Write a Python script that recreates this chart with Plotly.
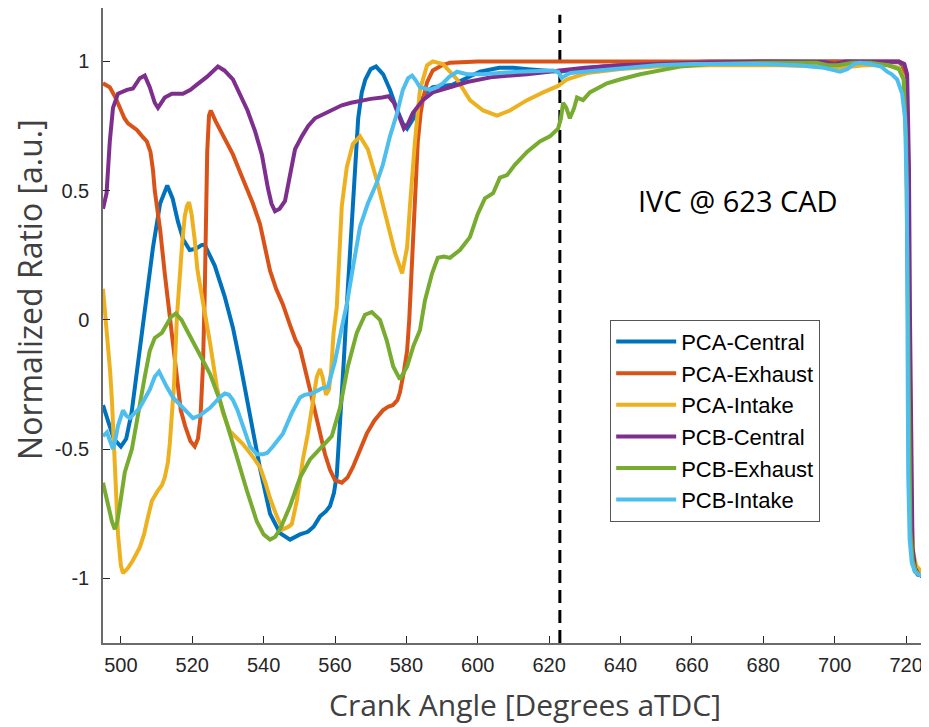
import plotly.graph_objects as go

# ---------------- data ----------------
series_names = ["PCA-Central", "PCA-Exhaust", "PCA-Intake", "PCB-Central", "PCB-Exhaust", "PCB-Intake"]
series_colors = ["#0072BD", "#D95319", "#EDB120", "#7E2F8E", "#77AC30", "#4DBEEE"]

pca_central_x = [495, 496.5, 498, 500, 501.5, 503, 505, 507, 509, 511, 513, 514.5, 516, 517.5, 519.3, 521, 522.7,
                 523.5, 526.3, 529.1, 531.4, 533.4, 536.2, 539, 541.8, 544.6, 547.4, 550.2, 552.4, 554, 555.8, 557.5,
                 558.6, 559.7, 560.5, 561.5, 562.5, 563.5, 564.5, 565.5, 566.5, 567.5, 568.5, 570, 571.5, 573.5,
                 575.4, 577.2, 579, 580.2, 582, 583.8, 585.5, 587.4, 590, 593, 596, 600.6, 606, 610, 614, 618, 623,
                 628, 635, 645, 655, 665, 700, 716, 718, 719, 719.7, 720.2, 720.5, 720.8, 721.1, 721.6, 722.3,
                 723.2, 725]
pca_central_y = [-0.33, -0.40, -0.46, -0.49, -0.46, -0.36, -0.15, 0.08, 0.28, 0.45, 0.52, 0.47, 0.38, 0.31, 0.27,
                 0.275, 0.29, 0.29, 0.21, 0.09, -0.03, -0.165, -0.36, -0.575, -0.75, -0.825, -0.85, -0.83, -0.82,
                 -0.80, -0.76, -0.74, -0.72, -0.67, -0.60, -0.40, -0.15, 0.10, 0.35, 0.60, 0.78, 0.88, 0.93, 0.97,
                 0.98, 0.95, 0.89, 0.82, 0.76, 0.74, 0.78, 0.84, 0.88, 0.90, 0.905, 0.91, 0.93, 0.96, 0.975, 0.975,
                 0.97, 0.965, 0.96, 0.97, 0.98, 0.99, 0.995, 1.0, 1.0, 1.0, 0.997, 0.985, 0.95, 0.75, 0.3, -0.3,
                 -0.7, -0.9, -0.96, -0.985, -0.99]

pca_exhaust_x = [495, 496.9, 498.5, 499.7, 501, 502, 503.5, 504.5, 506, 507.3, 508.3, 509, 509.5, 510.3, 511, 512.3,
                 513.7, 514.3, 515.7, 516.8, 518, 519.5, 520.7, 521.6, 522.3, 523, 523.5, 523.9, 524.2, 524.7,
                 525.2, 526.5, 527.7, 529.5, 531.4, 533.3, 535.3, 537, 539, 540.5, 541.8, 543.5, 545.4, 547.4, 549,
                 550.2, 551.5, 553, 554.5, 555.8, 557.2, 558.6, 560, 561.9, 563.5, 565, 567, 568.9, 571, 573.4, 575,
                 576.2, 577.5, 578.2, 579.3, 580.2, 580.8, 581.8, 582.5, 583.2, 584, 584.6, 585.8, 587.4, 590,
                 592.2, 600, 718, 719, 719.8, 720.3, 720.6, 720.9, 721.2, 721.7, 722.4, 723.3, 725]
pca_exhaust_y = [0.915, 0.90, 0.86, 0.82, 0.78, 0.76, 0.745, 0.735, 0.71, 0.69, 0.65, 0.58, 0.50, 0.42, 0.35, 0.18,
                 0.01, -0.05, -0.25, -0.35, -0.41, -0.47, -0.49, -0.46, -0.38, -0.18, 0.10, 0.40, 0.65, 0.79, 0.81,
                 0.77, 0.74, 0.69, 0.64, 0.575, 0.51, 0.45, 0.37, 0.27, 0.19, 0.12, 0.06, -0.02, -0.08, -0.11,
                 -0.18, -0.27, -0.36, -0.44, -0.52, -0.58, -0.62, -0.63, -0.61, -0.57, -0.50, -0.44, -0.39, -0.35,
                 -0.335, -0.33, -0.31, -0.28, -0.20, -0.12, 0.0, 0.31, 0.52, 0.69, 0.80, 0.85, 0.92, 0.965, 0.985,
                 0.995, 1.0, 1.0, 0.99, 0.95, 0.7, 0.2, -0.4, -0.75, -0.92, -0.97, -0.985, -0.99]

pca_intake_x = [495, 496.1, 497, 497.5, 498.3, 499.2, 500, 500.6, 502, 503.4, 505.3, 506.5, 507.3, 508.7, 510.4,
                511.5, 512.3, 513.2, 513.7, 514.3, 514.9, 515.7, 516.5, 517.2, 517.9, 518.5, 519.1, 519.8, 520.7,
                521.4, 522.1, 523, 525, 526.9, 528.6, 530.5, 532.5, 534.2, 537, 539, 540.5, 541.8, 543.7, 545.4,
                547, 547.9, 549.3, 551, 552.4, 553.5, 554.9, 555.8, 556.5, 557.5, 558.3, 558.9, 559.6, 560.5,
                561.9, 563.3, 565, 567, 569.2, 571.7, 574.6, 576.8, 578.8, 580.2, 581, 582.4, 583.8, 585.8, 587.4,
                590.2, 594.2, 597.8, 601.5, 605.4, 609, 613.8, 618.3, 622.5, 625, 630.6, 640, 650, 665, 685, 695,
                702, 708, 715, 718, 719.5, 720.3, 720.7, 721.1, 721.5, 722, 722.8, 724, 725]
pca_intake_y = [0.12, -0.05, -0.2, -0.31, -0.57, -0.83, -0.95, -0.98, -0.96, -0.93, -0.88, -0.83, -0.78, -0.70,
                -0.66, -0.64, -0.61, -0.55, -0.48, -0.37, -0.25, 0.01, 0.18, 0.30, 0.40, 0.44, 0.455, 0.41, 0.31,
                0.20, 0.14, 0.075, -0.09, -0.26, -0.36, -0.43, -0.46, -0.48, -0.53, -0.57, -0.63, -0.69, -0.76,
                -0.81, -0.80, -0.79, -0.70, -0.54, -0.44, -0.34, -0.22, -0.19, -0.22, -0.29, -0.27, -0.20, -0.05,
                0.05, 0.44, 0.59, 0.68, 0.71, 0.66, 0.54, 0.38, 0.26, 0.18, 0.28, 0.44, 0.69, 0.89, 0.985, 1.0, 0.99,
                0.93, 0.85, 0.81, 0.79, 0.81, 0.85, 0.88, 0.905, 0.93, 0.955, 0.97, 0.98, 0.985, 0.985, 0.98,
                0.975, 0.985, 0.985, 0.975, 0.93, 0.75, 0.2, -0.4, -0.75, -0.9, -0.95, -0.97, -0.975]

pcb_central_x = [495, 496, 496.9, 497.8, 499.2, 501.7, 503.4, 505.3, 506.7, 508.1, 509.5, 510.4, 512.3, 514.3,
                 517.4, 519.5, 521.3, 524.1, 527.2, 529, 531.4, 534.2, 535.5, 537.6, 539.5, 541.2, 542.2, 543.2,
                 544.5, 546, 547.5, 548.8, 550.7, 552.5, 554.4, 557.2, 559, 561.9, 564.5, 567.5, 570, 573.2, 575,
                 576.5, 577.8, 579.3, 580.5, 581.8, 584.6, 587.4, 592.2, 597, 604.3, 613.8, 623, 630, 640, 650, 660,
                 680, 697, 700, 703, 718, 719.5, 720.3, 720.8, 721.1, 721.4, 721.8, 722.5, 723.5, 725]
pcb_central_y = [0.43, 0.49, 0.69, 0.82, 0.875, 0.89, 0.895, 0.935, 0.945, 0.90, 0.84, 0.82, 0.86, 0.875, 0.875,
                 0.89, 0.91, 0.94, 0.98, 0.965, 0.93, 0.85, 0.81, 0.73, 0.64, 0.51, 0.45, 0.42, 0.43, 0.46, 0.56,
                 0.66, 0.71, 0.75, 0.78, 0.80, 0.81, 0.83, 0.84, 0.85, 0.855, 0.86, 0.865, 0.84, 0.79, 0.74, 0.76,
                 0.80, 0.85, 0.88, 0.90, 0.92, 0.94, 0.95, 0.965, 0.975, 0.985, 0.99, 0.995, 1.0, 0.998, 0.99, 1.0,
                 1.0, 0.99, 0.95, 0.6, 0.0, -0.6, -0.88, -0.96, -0.985, -0.995]

pcb_exhaust_x = [495, 496.4, 497.5, 498.3, 499, 499.7, 501.1, 503.1, 504.8, 506.7, 508.1, 509.5, 511.5, 512.9, 514,
                 515.4, 517, 518.5, 520.3, 522.1, 525, 527.7, 530, 532.5, 535.3, 538.1, 540, 541.8, 543.2, 544.6,
                 547.4, 550.2, 553, 556.3, 559.1, 561.4, 563.6, 566.1, 568.4, 570.3, 572.6, 574.5, 576.3, 578.2,
                 580.2, 582, 583.8, 585.2, 587.2, 588.8, 590.5, 592.2, 595, 597.8, 600, 602, 604.3, 606.2, 608.2,
                 610.4, 613.8, 617.4, 620.2, 622.5, 623.3, 623.9, 624.8, 625.8, 627, 627.8, 629.5, 631.4, 633.4,
                 636.2, 639.8, 645.5, 653, 656.7, 665, 680, 695, 698, 701, 705, 710, 715, 718, 719.3, 720, 720.4,
                 720.8, 721.2, 721.8, 722.6, 723.5, 725]
pcb_exhaust_y = [-0.63, -0.72, -0.78, -0.81, -0.78, -0.72, -0.59, -0.50, -0.36, -0.22, -0.12, -0.07, -0.05,
                 -0.015, 0.01, 0.025, 0.0, -0.04, -0.085, -0.13, -0.21, -0.31, -0.41, -0.53, -0.66, -0.78, -0.83,
                 -0.85, -0.84, -0.81, -0.72, -0.61, -0.54, -0.49, -0.45, -0.34, -0.18, -0.05, 0.02, 0.03, 0.0,
                 -0.08, -0.18, -0.23, -0.18, -0.10, -0.04, 0.075, 0.18, 0.24, 0.245, 0.24, 0.27, 0.32, 0.41, 0.47,
                 0.49, 0.55, 0.56, 0.60, 0.65, 0.69, 0.71, 0.74, 0.78, 0.84, 0.82, 0.78, 0.82, 0.86, 0.85, 0.88,
                 0.895, 0.915, 0.93, 0.95, 0.97, 0.98, 0.99, 0.995, 0.995, 0.985, 0.985, 0.995, 0.995, 0.985, 0.97,
                 0.93, 0.7, 0.1, -0.5, -0.82, -0.93, -0.97, -0.985, -0.99]

pcb_intake_x = [495, 496.1, 497, 497.8, 498.5, 499.2, 500.6, 501.5, 502.5, 505.3, 508.1, 509.5, 510.7, 512, 512.9,
                514.6, 517.4, 520.2, 522.1, 525, 527.7, 529.1, 530.3, 531.4, 532.7, 533.9, 536.2, 538.1, 539.8,
                541, 542.6, 545.4, 547.9, 550.2, 551.5, 553.5, 556.3, 558, 559, 560, 561.9, 563.3, 565, 567, 569.2,
                571.7, 573.4, 575.4, 577.4, 579, 580.5, 581.6, 582.7, 583.8, 586.6, 588.5, 590.2, 592, 594.2, 597,
                601.5, 606, 611, 621, 622.5, 623.5, 624.5, 626, 630, 640, 650, 660, 680, 690, 697, 700, 701.5,
                703.5, 705.5, 707, 710, 713, 714.7, 716, 717.5, 718.9, 719.7, 720.2, 720.4, 720.6, 721, 721.6,
                722.5, 723.5, 725]
pcb_intake_y = [-0.45, -0.435, -0.47, -0.50, -0.46, -0.41, -0.35, -0.37, -0.38, -0.34, -0.27, -0.22, -0.20, -0.24,
                -0.26, -0.30, -0.34, -0.38, -0.37, -0.34, -0.30, -0.285, -0.29, -0.31, -0.35, -0.40, -0.49, -0.52,
                -0.52, -0.515, -0.49, -0.44, -0.36, -0.30, -0.29, -0.285, -0.265, -0.26, -0.21, -0.16, -0.03, 0.06,
                0.20, 0.36, 0.45, 0.53, 0.60, 0.71, 0.80, 0.89, 0.935, 0.945, 0.925, 0.90, 0.89, 0.90, 0.915, 0.94,
                0.96, 0.95, 0.95, 0.955, 0.96, 0.965, 0.96, 0.935, 0.945, 0.955, 0.96, 0.975, 0.985, 0.99, 0.99,
                0.985, 0.975, 0.965, 0.96, 0.97, 0.99, 0.995, 0.99, 0.98, 0.96, 0.95, 0.93, 0.875, 0.78, 0.5, 0.0,
                -0.6, -0.85, -0.94, -0.975, -0.985, -0.99]

ivc_cad = 623
ivc_label = "IVC @ 623 CAD"
x_title = "Crank Angle [Degrees aTDC]"
y_title = "Normalized Ratio [a.u.]"
x_ticks = [500, 520, 540, 560, 580, 600, 620, 640, 660, 680, 700, 720]
y_ticks = [-1, -0.5, 0, 0.5, 1]
y_tick_labels = ["-1", "-0.5", "0", "0.5", "1"]
x_range = [495, 725.3]
y_range = [-1.25, 1.2065]

all_x = [pca_central_x, pca_exhaust_x, pca_intake_x, pcb_central_x, pcb_exhaust_x, pcb_intake_x]
all_y = [pca_central_y, pca_exhaust_y, pca_intake_y, pcb_central_y, pcb_exhaust_y, pcb_intake_y]

# ---------------- figure ----------------
fig = go.Figure()

fig.add_trace(go.Scatter(x=[ivc_cad, ivc_cad], y=[y_range[0], 1.18], mode="lines",
                         line=dict(color="black", width=3, dash="13px,7px"),
                         showlegend=False, hoverinfo="skip"))

for name, color, xs, ys in zip(series_names, series_colors, all_x, all_y):
    fig.add_trace(go.Scatter(x=xs, y=ys, mode="lines", name=name,
                             line=dict(color=color, width=4)))

axis_color = "#6b6b6b"
title_font = "Open Sans, sans-serif"
fig.update_layout(
    width=921, height=719,
    margin=dict(l=95, r=4, t=0, b=84, autoexpand=False),
    paper_bgcolor="white", plot_bgcolor="white",
    font=dict(family="Liberation Sans, Arial, sans-serif", color="#262626"),
    xaxis=dict(range=x_range, tickvals=x_ticks, ticks="inside", ticklen=7, tickwidth=1.3,
               tickcolor="#262626", showline=True, linecolor=axis_color, linewidth=1.5,
               showgrid=False, zeroline=False, automargin=False,
               tickfont=dict(size=20, color="#262626"), ticklabelstandoff=3),
    yaxis=dict(range=y_range, tickvals=y_ticks, ticktext=y_tick_labels, ticks="inside", ticklen=7,
               tickwidth=1.3, tickcolor="#262626", showline=True, linecolor=axis_color, linewidth=1.5,
               showgrid=False, zeroline=False, automargin=False,
               tickfont=dict(size=20, color="#262626"), ticklabelstandoff=8),
    legend=dict(x=0.617, y=0.509, xanchor="left", yanchor="top", bgcolor="white",
                bordercolor="#555555", borderwidth=1, itemwidth=60,
                font=dict(family="Liberation Sans, Arial, sans-serif", size=22, color="#000000")),
    annotations=[
        dict(x=672.9, y=0.46, xref="x", yref="y", text=ivc_label, showarrow=False,
             font=dict(family=title_font, size=29, color="black")),
        dict(x=0.5134, y=-0.0976, xref="paper", yref="paper", text=x_title, showarrow=False,
             xanchor="center", yanchor="middle",
             font=dict(family=title_font, size=30, color="#404040")),
        dict(x=-0.0888, y=0.556, xref="paper", yref="paper", text=y_title, showarrow=False,
             xanchor="center", yanchor="middle", textangle=-90,
             font=dict(family=title_font, size=32, color="#404040")),
    ],
)

fig.write_html("out.html")
